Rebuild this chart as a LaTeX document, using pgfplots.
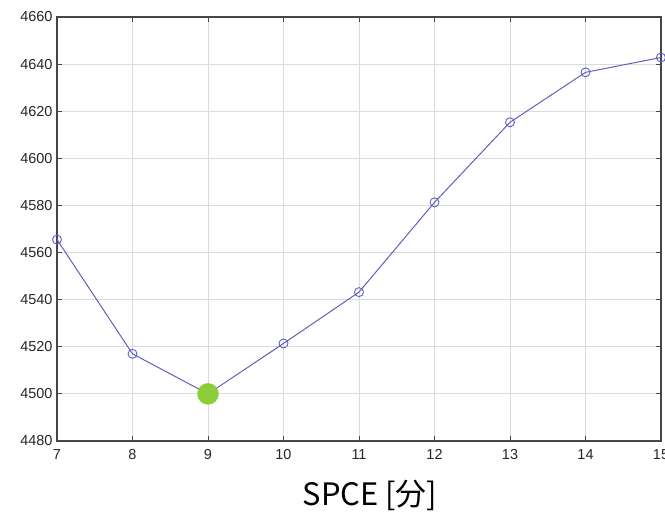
\documentclass[border=0pt]{standalone}
\usepackage{pgfplots}
\pgfplotsset{compat=1.18}
\usepackage{fontspec}
\setmainfont{Liberation Sans}
\newfontfamily\jpfont{Noto Sans CJK JP}
\definecolor{lineblue}{RGB}{95,95,190}
\definecolor{dotgreen}{RGB}{140,205,60}
\definecolor{gridgray}{RGB}{218,218,218}
\definecolor{axgray}{RGB}{70,70,70}
\begin{document}
\begin{tikzpicture}
\path[use as bounding box] (-57bp,-72bp) rectangle (608bp,441bp);
\begin{axis}[
  at={(0,0)}, anchor=origin,
  scale only axis,
  width=604bp, height=424bp,
  xmin=7, xmax=15, ymin=4480, ymax=4660,
  xtick={7,8,...,15},
  ytick={4480,4500,...,4660},
  grid=major,
  major grid style={gridgray, line width=0.8pt},
  axis line style={axgray, line width=1.3pt},
  tick style={axgray, line width=1pt},
  major tick length=5bp,
  tick align=inside,
  xtick pos=both, ytick pos=both,
  /pgf/number format/assume math mode=true,
  /pgf/number format/set thousands separator={},
  ticklabel style={font=\fontsize{14.5}{14.5}\selectfont, text=black!85},
  xticklabel style={yshift=-5bp},
  yticklabel style={xshift=-1bp},
  xlabel={\jpfont\fontsize{31}{31}\selectfont SPCE [分]},
  xlabel style={at={(axis description cs:0.5,0)}, anchor=base, yshift=-64bp, xshift=11bp},
  clip=false,
]
\addplot[color=lineblue, line width=1pt, mark=o, mark size=4.5bp, mark options={line width=0.9pt}]
  coordinates {
  (7,4565.5) (8,4517) (9,4500) (10,4521.4) (11,4543.2)
  (12,4581.3) (13,4615.3) (14,4636.5) (15,4642.8)
  };
\addplot[only marks, mark=*, mark size=10.5bp, color=dotgreen, mark options={draw=dotgreen, fill=dotgreen}]
  coordinates {(9,4500)};
\end{axis}
\end{tikzpicture}
\end{document}
